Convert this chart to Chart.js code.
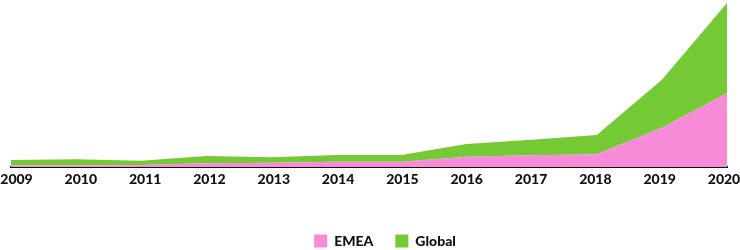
<!DOCTYPE html>
<html><head><meta charset="utf-8">
<script src="https://cdn.jsdelivr.net/npm/chart.js@4/dist/chart.umd.min.js"></script>
<style>html,body{margin:0;padding:0;background:#fff}#wrap{width:740px;height:250px;position:relative}</style>
</head><body><div id="wrap"><canvas id="c"></canvas></div>
<script>
const years = ['2009','2010','2011','2012','2013','2014','2015','2016','2017','2018','2019','2020'];
const emea = [1.5, 1.5, 2, 3.7, 4.3, 5.3, 5.3, 10.3, 11.7, 12.7, 39.3, 73.7];
const globalVals = [5.5, 6.2, 4.3, 7.3, 5.4, 6.7, 6.7, 12.7, 15.6, 19.3, 47.7, 90];
const seriesNames = ['EMEA', 'Global'];

const PINK = '#f78bd8';
const GREEN = '#74c935';
const INK = '#111111';
const FONT = {family: 'Lato', weight: 900, size: 14};

const totals = years.map((_, i) => emea[i] + globalVals[i]);
const yMax = Math.max(...totals);

const legendShift = {
  id: 'legendShift',
  afterLayout(chart) {
    const l = chart.legend;
    if (!l) return;
    l.left += 16; l.right += 16;
    l.top += 8; l.bottom += 8;
  }
};

new Chart(document.getElementById('c'), {
  type: 'line',
  data: {
    labels: years,
    datasets: [
      {label: seriesNames[0], data: emea, backgroundColor: PINK, borderColor: PINK, borderWidth: 0, fill: 'origin', pointRadius: 0, tension: 0},
      {label: seriesNames[1], data: globalVals, backgroundColor: GREEN, borderColor: GREEN, borderWidth: 0, fill: '-1', pointRadius: 0, tension: 0}
    ]
  },
  options: {
    responsive: true, maintainAspectRatio: false, animation: false,
    layout: {padding: {top: 3, left: 11, right: 13, bottom: 0}},
    scales: {
      x: {
        type: 'category', offset: false, weight: 0,
        grid: {display: false, drawTicks: false},
        ticks: {display: false},
        border: {display: true, color: INK, width: 2},
        afterFit(s) { s.height = 0; s.paddingLeft = 0; s.paddingRight = 0; }
      },
      x2: {
        type: 'linear', position: 'bottom', weight: 1,
        min: -0.0855, max: 11.0466,
        grid: {display: false, drawTicks: false},
        border: {display: false},
        ticks: {autoSkip: false, maxRotation: 0, padding: 4, color: INK, font: FONT,
          callback: (v) => years[v]},
        afterBuildTicks(s) { s.ticks = years.map((_, i) => ({value: i})); },
        afterFit(s) { s.height = 37; s.paddingLeft = 0; s.paddingRight = 0; }
      },
      y: {stacked: true, display: false, min: 0, max: yMax}
    },
    plugins: {
      legend: {
        position: 'bottom',
        labels: {boxWidth: 13, boxHeight: 13, padding: 22, color: INK, font: {family: 'Lato', weight: 900, size: 14}}
      },
      tooltip: {enabled: false}
    }
  },
  plugins: [legendShift]
});
</script></body></html>
